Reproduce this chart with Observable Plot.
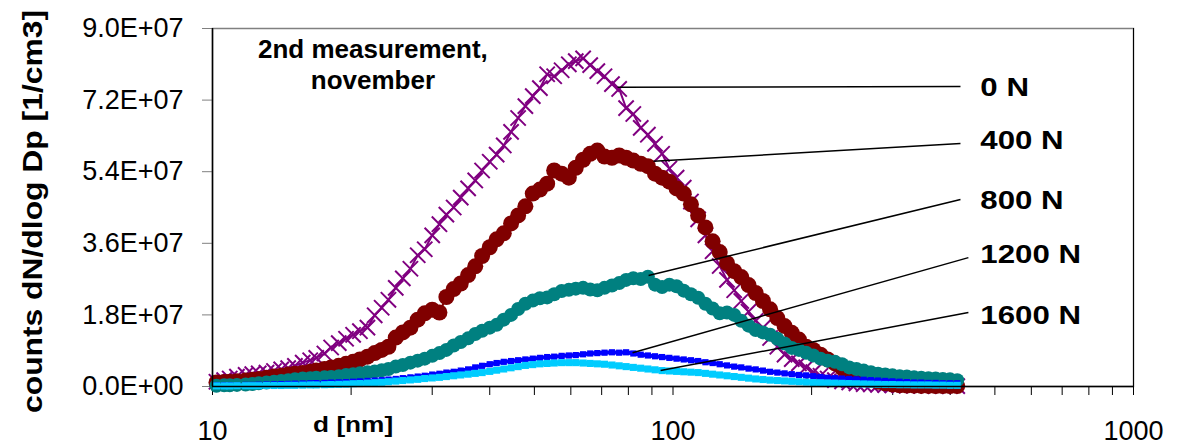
<!DOCTYPE html>
<html>
<head>
<meta charset="utf-8">
<script src="https://cdn.jsdelivr.net/npm/d3@7"></script>
<script src="https://cdn.jsdelivr.net/npm/@observablehq/plot@0.6"></script>
<style>
  html, body { margin: 0; padding: 0; background: #fff; }
</style>
</head>
<body>
<div id="chart"></div>
<script>
// particle diameter channels (nm)
const diameters = [
  10.2, 10.6, 10.9, 11.3, 11.8, 12.2, 12.6, 13.1, 13.6, 14.1,
  14.6, 15.1, 15.7, 16.3, 16.8, 17.5, 18.1, 18.8, 19.5, 20.2,
  20.9, 21.7, 22.5, 23.3, 24.1, 25.0, 25.9, 26.9, 27.9, 28.9,
  30.0, 31.1, 32.2, 33.4, 34.6, 35.9, 37.2, 38.5, 40.0, 41.4,
  42.9, 44.5, 46.1, 47.8, 49.6, 51.4, 53.3, 55.2, 57.3, 59.4,
  61.5, 63.8, 66.1, 68.5, 71.0, 73.7, 76.4, 79.1, 82.0, 85.1,
  88.2, 91.4, 94.7, 98.2, 101.8, 105.5, 109.4, 113.4, 117.6, 121.9,
  126.3, 131.0, 135.8, 140.7, 145.9, 151.2, 156.8, 162.5, 168.5, 174.7,
  181.1, 187.7, 194.6, 201.7, 209.1, 216.7, 224.7, 232.9, 241.4, 250.3,
  259.5, 269.0, 278.8, 289.0, 299.6, 310.6, 322.0, 333.8, 346.0, 358.7,
  371.8, 385.4, 399.5, 414.2
];

// dN/dlog Dp in millions per cm3
const n0N = [
  1.2, 1.6, 2.0, 2.5, 2.9, 3.1, 3.3, 3.5, 3.9, 4.3,
  4.6, 5.2, 6.0, 6.6, 7.2, 8.3, 9.8, 10.9, 12.0, 13.0,
  13.9, 14.8, 17.9, 19.8, 21.8, 24.8, 27.2, 29.6, 33.0, 34.5,
  38.0, 40.8, 43.2, 45.0, 47.5, 49.8, 51.8, 54.3, 56.5, 58.3,
  60.6, 64.0, 67.5, 70.5, 73.0, 75.0, 78.5, 78.0, 79.5, 81.0,
  81.8, 82.5, 80.8, 79.3, 78.0, 76.0, 74.8, 70.0, 68.5, 65.0,
  63.3, 61.0, 58.5, 54.8, 52.5, 50.0, 46.5, 42.0, 38.0, 34.0,
  30.3, 26.8, 24.2, 21.5, 18.8, 16.5, 14.8, 12.2, 10.0, 8.0,
  6.9, 5.8, 4.8, 3.6, 2.7, 2.0, 1.6, 1.3, 1.0, 0.8,
  0.6, 0.5, 0.4, 0.35, 0.3, 0.25, 0.2, 0.2, 0.15, 0.15,
  0.1, 0.1, 0.1, 0.1
];
const n400N = [
  1.0, 1.1, 1.2, 1.3, 1.5, 1.7, 1.9, 2.2, 2.5, 2.7,
  3.0, 3.2, 3.4, 3.7, 4.0, 4.4, 4.8, 5.2, 5.7, 6.2,
  6.8, 7.5, 8.4, 9.2, 10.0, 12.3, 13.6, 14.8, 16.8, 18.4,
  19.3, 18.6, 22.5, 24.5, 25.9, 28.0, 30.2, 32.8, 35.0, 37.0,
  38.5, 41.0, 43.0, 45.3, 48.5, 49.5, 51.0, 54.3, 53.5, 52.5,
  55.0, 57.0, 58.5, 59.3, 57.8, 57.5, 58.1, 57.5, 56.8, 56.0,
  55.4, 53.5, 52.5, 51.5, 49.8, 48.5, 45.8, 43.0, 40.0, 36.5,
  33.8, 31.0, 29.0, 27.5, 25.5, 23.5, 21.5, 19.4, 17.2, 15.2,
  13.5, 11.8, 10.0, 9.2, 8.0, 6.8, 5.8, 4.6, 3.8, 3.0,
  2.3, 1.7, 1.2, 0.8, 0.5, 0.3, 0.25, 0.2, 0.15, 0.15,
  0.1, 0.1, 0.1, 0.1
];
const n800N = [
  0.2, 0.3, 0.3, 0.4, 0.5, 0.6, 0.8, 1.0, 1.2, 1.4,
  1.6, 1.8, 2.0, 2.1, 2.2, 2.3, 2.4, 2.6, 2.9, 3.1,
  3.3, 3.6, 3.8, 4.1, 4.4, 5.0, 5.4, 6.0, 6.5, 7.0,
  7.7, 8.4, 9.2, 10.3, 11.2, 12.1, 13.2, 14.0, 14.8, 15.5,
  16.8, 18.0, 19.5, 20.8, 21.6, 22.2, 22.4, 23.2, 24.0, 24.3,
  24.6, 24.8, 24.4, 24.2, 24.8, 25.4, 26.0, 26.8, 27.2, 27.0,
  27.6, 25.6, 25.0, 25.6, 25.2, 24.1, 23.2, 22.3, 20.8, 19.6,
  18.4, 18.6, 18.0, 16.5, 15.3, 14.2, 13.6, 13.0, 12.0, 10.8,
  9.7, 9.2, 8.5, 7.8, 7.0, 6.5, 6.2, 5.6, 4.8, 4.4,
  4.0, 3.6, 3.2, 3.0, 2.8, 2.6, 2.5, 2.3, 2.2, 2.1,
  2.0, 1.9, 1.8, 1.6
];
const n1200N = [
  0.3, 0.3, 0.3, 0.35, 0.4, 0.4, 0.45, 0.5, 0.55, 0.6,
  0.65, 0.7, 0.75, 0.8, 0.85, 0.9, 1.0, 1.05, 1.1, 1.2,
  1.3, 1.4, 1.5, 1.6, 1.75, 1.9, 2.1, 2.3, 2.5, 2.7,
  3.0, 3.2, 3.5, 3.7, 4.0, 4.3, 4.8, 5.2, 5.6, 5.9,
  6.2, 6.4, 6.6, 6.8, 7.0, 7.2, 7.4, 7.5, 7.7, 7.8,
  7.9, 8.1, 8.3, 8.4, 8.5, 8.6, 8.5, 8.6, 8.3, 8.0,
  7.8, 7.6, 7.4, 7.2, 7.0, 6.8, 6.6, 6.4, 6.1, 5.9,
  5.6, 5.3, 5.0, 4.8, 4.5, 4.3, 4.0, 3.7, 3.5, 3.3,
  3.1, 2.9, 2.8, 2.6, 2.4, 2.2, 2.1, 2.0, 1.9, 1.8,
  1.7, 1.6, 1.5, 1.4, 1.3, 1.2, 1.1, 1.0, 1.0, 0.9,
  0.9, 0.8, 0.8, 0.8
];
const n1600N = [
  0.15, 0.15, 0.15, 0.2, 0.2, 0.2, 0.2, 0.25, 0.25, 0.25,
  0.3, 0.3, 0.35, 0.4, 0.4, 0.45, 0.5, 0.55, 0.6, 0.7,
  0.75, 0.85, 0.95, 1.05, 1.2, 1.35, 1.5, 1.65, 1.8, 2.0,
  2.15, 2.3, 2.5, 2.7, 2.9, 3.1, 3.3, 3.5, 3.8, 4.1,
  4.4, 4.7, 5.0, 5.3, 5.5, 5.7, 5.8, 5.9, 6.0, 6.0,
  6.0, 5.9, 5.8, 5.7, 5.6, 5.4, 5.2, 5.0, 4.8, 4.6,
  4.4, 4.2, 4.0, 3.9, 3.8, 3.7, 3.6, 3.5, 3.3, 3.1,
  2.9, 2.7, 2.5, 2.3, 2.1, 1.9, 1.75, 1.6, 1.5, 1.4,
  1.3, 1.2, 1.1, 1.0, 0.95, 0.9, 0.85, 0.8, 0.75, 0.7,
  0.65, 0.6, 0.55, 0.5, 0.5, 0.45, 0.45, 0.4, 0.4, 0.4,
  0.35, 0.35, 0.3, 0.3
];

// axis ticks and labels
const yTicks = [0, 18, 36, 54, 72, 90];
const yTickLabels = ["0.0E+00", "1.8E+07", "3.6E+07", "5.4E+07", "7.2E+07", "9.0E+07"];
const xTicks = [10, 20, 30, 40, 50, 60, 70, 80, 90, 100, 200, 300, 400, 500, 600, 700, 800, 900, 1000];
const xLabelTicks = [10, 100, 1000];
const xLabelTexts = ["10", "100", "1000"];
const yTitle = "counts dN/dlog Dp [1/cm3]";
const xTitle = "d [nm]";
const noteLines = ["2nd measurement,", "november"];

// series labels and leader lines (data coordinates)
const labelNames = ["0 N", "400 N", "800 N", "1200 N", "1600 N"];
const leaderFromD = [75.8, 90.7, 88.5, 81.7, 94.0];
const leaderFromV = [75.2, 56.6, 27.9, 8.5, 4.0];
const leaderToD = [421, 421, 421, 438, 438];
const leaderToV = [75.4, 61.1, 47.0, 32.4, 18.6];
const labelD = [465, 465, 465, 465, 465];
const labelV = [75.2, 61.8, 46.8, 33.2, 17.8];

const toRows = (vals) => diameters.map((d, i) => ({d, v: vals[i]}));
const s0 = toRows(n0N), s400 = toRows(n400N), s800 = toRows(n800N), s1200 = toRows(n1200N), s1600 = toRows(n1600N);
const labels = labelNames.map((t, i) => ({
  t, x1: leaderFromD[i], y1: leaderFromV[i], x2: leaderToD[i], y2: leaderToV[i], lx: labelD[i], ly: labelV[i]
}));
const notes = [
  {d: 22.3, v: 84.8, t: noteLines[0]},
  {d: 22.3, v: 77.0, t: noteLines[1]}
];

const chart = Plot.plot({
  width: 1179,
  height: 445,
  marginLeft: 212,
  marginRight: 46,
  marginTop: 28,
  marginBottom: 59,
  style: {fontFamily: "Arial, 'Liberation Sans', sans-serif", background: "#fff", color: "#000"},
  x: {type: "log", domain: [10, 1000]},
  y: {domain: [0, 90]},
  marks: [
    Plot.frame({stroke: "#808080", strokeWidth: 1.5}),
    Plot.axisY({
      ticks: yTicks, tickSize: 10, tickPadding: 19, fontSize: 27, stroke: "#808080",
      tickFormat: (t) => yTickLabels[yTicks.indexOf(t)], label: null
    }),
    Plot.axisX({
      ticks: xTicks, tickSize: 9, tickPadding: 25, fontSize: 27, stroke: "#000",
      tickFormat: (t) => { const i = xLabelTicks.indexOf(t); return i < 0 ? "" : xLabelTexts[i]; }, label: null
    }),
    Plot.ruleX([1000], {stroke: "#000", strokeWidth: 1}),
    // series 0 N
    Plot.line(s0, {x: "d", y: "v", stroke: "#800080", strokeWidth: 2}),
    Plot.dot(s0, {x: "d", y: "v", symbol: "times", r: 7, stroke: "#800080", strokeWidth: 2}),
    // series 400 N
    Plot.line(s400, {x: "d", y: "v", stroke: "#800000", strokeWidth: 2}),
    Plot.dot(s400, {x: "d", y: "v", r: 8, fill: "#800000"}),
    // series 800 N
    Plot.line(s800, {x: "d", y: "v", stroke: "#008080", strokeWidth: 2}),
    Plot.dot(s800, {x: "d", y: "v", r: 7, fill: "#008080"}),
    // series 1200 N
    Plot.line(s1200, {x: "d", y: "v", stroke: "#0000FF", strokeWidth: 4}),
    Plot.dot(s1200, {x: "d", y: "v", symbol: "square", r: 3.5, fill: "#0000FF"}),
    // series 1600 N
    Plot.line(s1600, {x: "d", y: "v", stroke: "#00CCFF", strokeWidth: 5}),
    Plot.dot(s1600, {x: "d", y: "v", symbol: "square", r: 4, fill: "#00CCFF"}),
    // axes lines
    Plot.ruleY([0], {stroke: "#000", strokeWidth: 1.5}),
    Plot.ruleX([10], {stroke: "#000", strokeWidth: 1.5}),
    // leaders and labels
    Plot.link(labels, {x1: "x1", y1: "y1", x2: "x2", y2: "y2", stroke: "#000", strokeWidth: 1.5}),
    Plot.text(labels, {x: "lx", y: "ly", text: "t", textAnchor: "start", lineAnchor: "middle", fontSize: 26, fontWeight: "bold", fill: "#000"}),
    Plot.text(notes, {x: "d", y: "v", text: "t", textAnchor: "middle", lineAnchor: "middle", fontSize: 26, fontWeight: "bold", fill: "#000"}),
    Plot.text([{d: 20.2, v: 0, t: xTitle}], {x: "d", y: "v", text: "t", dy: 38, textAnchor: "middle", lineAnchor: "middle", fontSize: 22, fontWeight: "bold", fill: "#000"}),
    Plot.text([yTitle], {frameAnchor: "left", text: (d) => d, rotate: -90, dx: -179, dy: 4, textAnchor: "middle", lineAnchor: "middle", fontSize: 27, fontWeight: "bold", fill: "#000"})
  ]
});

document.getElementById("chart").append(chart);

// match the wide bold lettering of the original
d3.select(chart).selectAll("text").each(function () {
  const s = this.textContent;
  if (s === yTitle) {
    this.setAttribute("textLength", 403);
    this.setAttribute("lengthAdjust", "spacingAndGlyphs");
  } else if (s === xTitle) {
    this.setAttribute("textLength", 80);
    this.setAttribute("lengthAdjust", "spacingAndGlyphs");
  } else if (labelNames.includes(s)) {
    const w = this.getComputedTextLength();
    this.setAttribute("textLength", (w * 1.2).toFixed(1));
    this.setAttribute("lengthAdjust", "spacingAndGlyphs");
  }
});
</script>
</body>
</html>
